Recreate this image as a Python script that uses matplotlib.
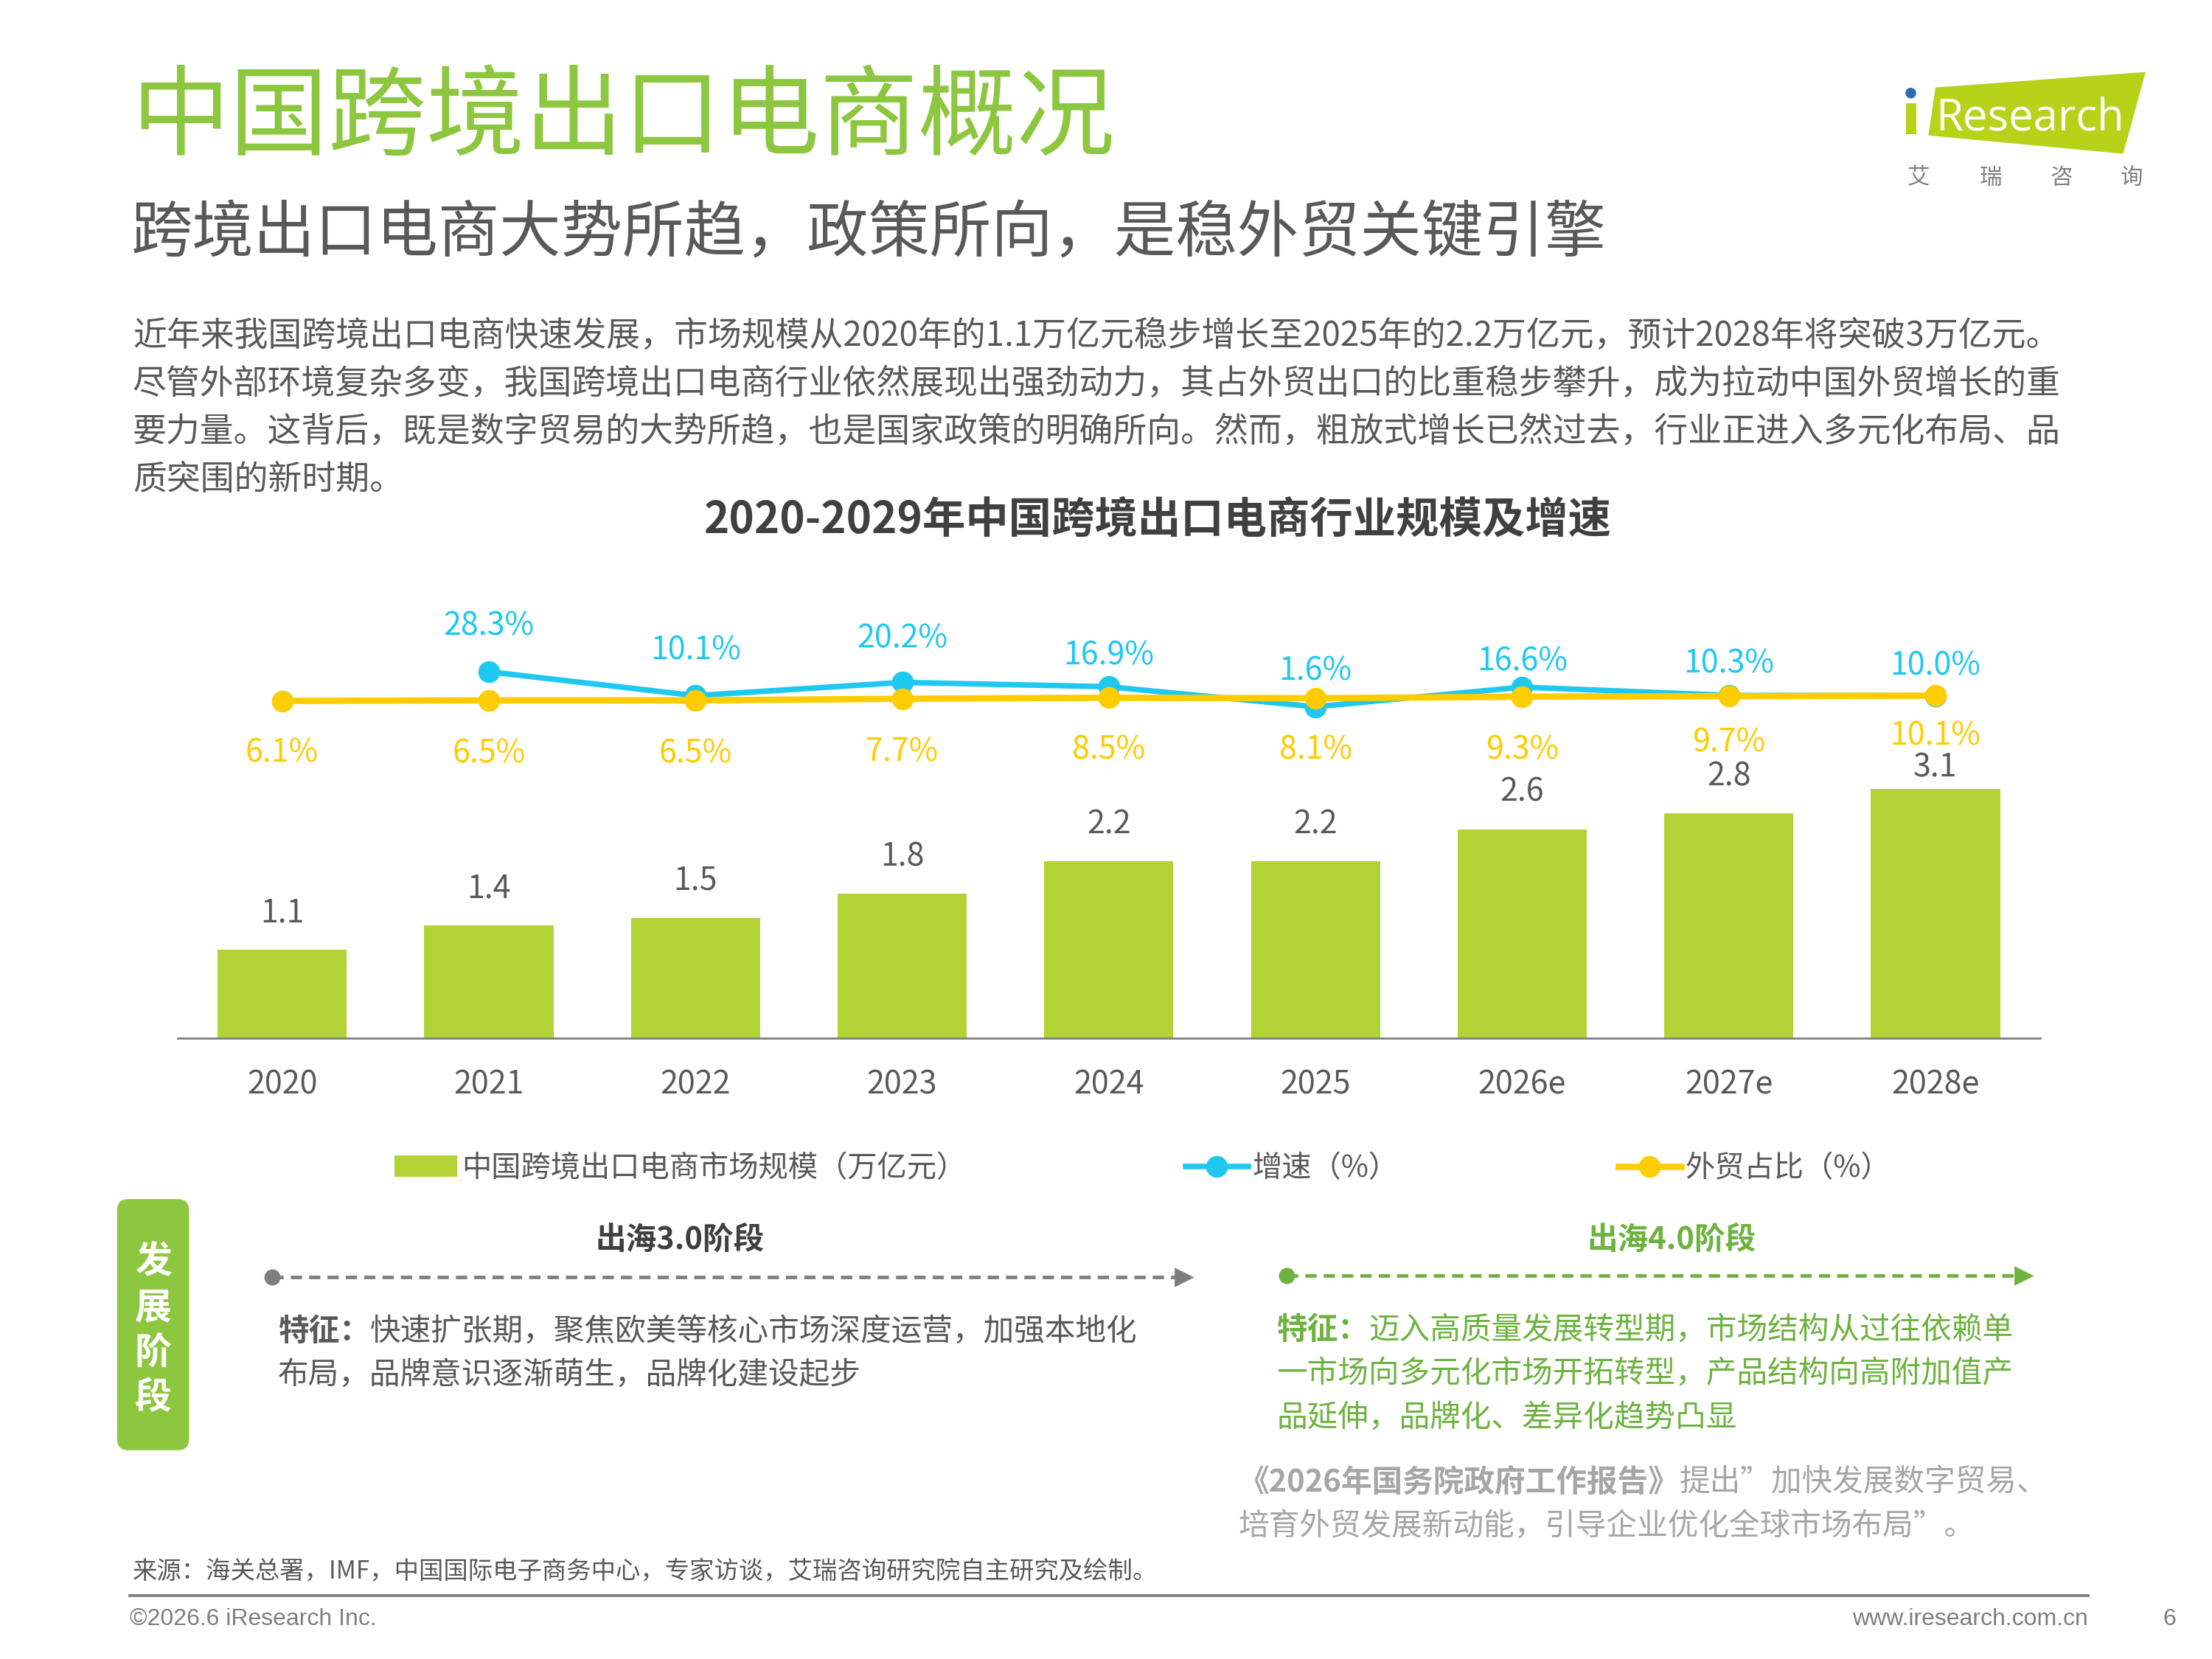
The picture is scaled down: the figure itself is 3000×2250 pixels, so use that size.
import numpy as np
import matplotlib
matplotlib.use('Agg')
from matplotlib import pyplot as plt
from matplotlib.patches import FancyBboxPatch, Polygon, Circle, Rectangle

plt.rcParams['font.family'] = ['Noto Sans CJK SC', 'DejaVu Sans']

# data
years = ['2020', '2021', '2022', '2023', '2024', '2025', '2026e', '2027e', '2028e']
market_size = [1.1, 1.4, 1.5, 1.8, 2.2, 2.2, 2.6, 2.8, 3.1]          # 万亿元
growth = [np.nan, 28.3, 10.1, 20.2, 16.9, 1.6, 16.6, 10.3, 10.0]     # %
trade_share = [6.1, 6.5, 6.5, 7.7, 8.5, 8.1, 9.3, 9.7, 10.1]         # %

BAR_GREEN = '#B2D235'
BLUE = '#1EC8F0'
YELLOW = '#FFCC00'
TITLE_GREEN = '#8DC63F'
STAGE_GREEN = '#6DB33F'
TEXT = '#595959'
DARK = '#404040'
LIGHT = '#A6A6A6'

W, H = 1568, 1176            # slide layout grid
PT = 3000 / W / 200 * 72     # one grid unit in points

fig = plt.figure(figsize=(15, 11.25), dpi=200)
bg = fig.add_axes([0, 0, 1, 1])
bg.set_xlim(0, W)
bg.set_ylim(H, 0)
bg.axis('off')


def run_text(x, y, parts, size, **kw):
    # draw text pieces one after another on one line (mixed weights)
    renderer = fig.canvas.get_renderer()
    for s, weight, color in parts:
        t = bg.text(x, y, s, fontsize=size, fontweight=weight, color=color,
                    ha='left', va='center', **kw)
        bb = t.get_window_extent(renderer)
        x = bg.transData.inverted().transform((bb.x1, bb.y0))[0]


# header
bg.text(93, 85, '中国跨境出口电商概况', fontsize=48, color=TITLE_GREEN, va='center')
bg.text(93, 166, '跨境出口电商大势所趋，政策所向，是稳外贸关键引擎', fontsize=30,
        color=TEXT, va='center')

paragraph = [
    '近年来我国跨境出口电商快速发展，市场规模从2020年的1.1万亿元稳步增长至2025年的2.2万亿元，预计2028年将突破3万亿元。',
    '尽管外部环境复杂多变，我国跨境出口电商行业依然展现出强劲动力，其占外贸出口的比重稳步攀升，成为拉动中国外贸增长的重',
    '要力量。这背后，既是数字贸易的大势所趋，也是国家政策的明确所向。然而，粗放式增长已然过去，行业正进入多元化布局、品',
    '质突围的新时期。',
]
for i, line in enumerate(paragraph):
    bg.text(94, 238 + 34 * i, line, fontsize=16.5, color=TEXT, va='center')

bg.text(821, 369, '2020-2029年中国跨境出口电商行业规模及增速', fontsize=21,
        fontweight='bold', color=DARK, ha='center', va='center')

# logo
bg.add_patch(Polygon([(1372, 62), (1521, 51), (1505, 109), (1367, 96)],
                     closed=True, fc='#B6D31A', ec='none'))
bg.add_patch(Rectangle((1351, 73), 7.5, 22, fc='#B6D31A', ec='none'))
bg.add_patch(Circle((1354.5, 66), 3.8, fc='#2E6DB4', ec='none'))
bg.text(1372, 92, 'Research', family=['Open Sans'], fontsize=21.5, color='white',
        va='baseline', ha='left')
for cx, ch in zip([1360, 1411, 1461, 1511], '艾瑞咨询'):
    bg.text(cx, 126, ch, fontsize=11, color='#7F7F7F', ha='center', va='center')

# chart
ax = fig.add_axes([126 / W, 1 - 736 / H, 1320 / W, 316 / H])
ax.patch.set_alpha(0)
x = np.arange(len(years))
bars = ax.bar(x, market_size, width=0.625, color=BAR_GREEN,
              label='中国跨境出口电商市场规模（万亿元）')
ax.set_xlim(-0.505, 8.505)
ax.set_ylim(0, 316 / 57)
for s in ['top', 'right', 'left']:
    ax.spines[s].set_visible(False)
ax.spines['bottom'].set_color('#7F7F7F')
ax.spines['bottom'].set_linewidth(1.0)
ax.set_yticks([])
ax.set_xticks(x, years)
ax.tick_params(axis='x', length=0, pad=15, labelsize=15.5, labelcolor=TEXT)

bar_off = [26, 26, 26, 26, 26, 26, 26, 26, 15]
for xi, v, off in zip(x, market_size, bar_off):
    ax.annotate(f'{v:.1f}', (xi, v), xytext=(0, off * PT), textcoords='offset points',
                ha='center', va='center', fontsize=15.5, color=TEXT)

ax2 = ax.twinx()
ax2.set_ylim(-(736 - 502.5) / 0.93, (502.5 - 420) / 0.93)
ax2.plot(x, growth, color=BLUE, lw=2.7, marker='o', ms=14 * PT, label='增速（%）', zorder=3)
ax2.plot(x, trade_share, color=YELLOW, lw=3.1, marker='o', ms=14 * PT,
         label='外贸占比（%）', zorder=4)
ax2.axis('off')

growth_off = [0, 32, 32, 31, 22, 25, 18, 22, 21]
for xi, v, off in zip(x, growth, growth_off):
    if np.isnan(v):
        continue
    ax2.annotate(f'{v:.1f}%', (xi, v), xytext=(0, off * PT), textcoords='offset points',
                 ha='center', va='center', fontsize=15.5, color=BLUE)

share_off = [37, 38, 38, 38, 37, 37, 38, 33, 29]
for xi, v, off in zip(x, trade_share, share_off):
    ax2.annotate(f'{v:.1f}%', (xi, v), xytext=(0, -off * PT), textcoords='offset points',
                 ha='center', va='center', fontsize=15.5, color=YELLOW)

h1, l1 = ax.get_legend_handles_labels()
h2, l2 = ax2.get_legend_handles_labels()
fig.legend(h1 + h2, l1 + l2, loc='center', bbox_to_anchor=(810 / W, 1 - 828 / H),
           ncol=3, frameon=False, fontsize=14.5, labelcolor=TEXT, handlelength=2.1,
           handletextpad=0.15, columnspacing=7.4)

# development stages
bg.add_patch(FancyBboxPatch((83, 850), 51, 178, boxstyle='round,pad=0,rounding_size=8',
                            fc=TITLE_GREEN, ec='none'))
for i, ch in enumerate('发展阶段'):
    bg.text(108.5, 895 + 32 * i, ch, fontsize=18, fontweight='bold', color='white',
            ha='center', va='center')


def stage_arrow(x0, x1, y, color):
    bg.plot([x0, x1 - 4], [y, y], color=color, lw=2.5 * PT, dashes=(3.2, 2.0))
    bg.plot([x0], [y], 'o', color=color, ms=10 * PT)
    bg.plot([x1 - 4], [y], marker='>', color=color, ms=11 * PT)


bg.text(482, 879, '出海3.0阶段', fontsize=15, fontweight='bold', color=DARK,
        ha='center', va='center')
stage_arrow(193, 843, 905, '#7F7F7F')
run_text(197, 944, [('特征：', 'bold', TEXT),
                    ('快速扩张期，聚焦欧美等核心市场深度运营，加强本地化', 'normal', TEXT)], 15)
bg.text(197, 975, '布局，品牌意识逐渐萌生，品牌化建设起步', fontsize=15, color=TEXT, va='center')

bg.text(1185, 879, '出海4.0阶段', fontsize=15, fontweight='bold', color=STAGE_GREEN,
        ha='center', va='center')
stage_arrow(912, 1438, 904, STAGE_GREEN)
run_text(905, 943, [('特征：', 'bold', STAGE_GREEN),
                    ('迈入高质量发展转型期，市场结构从过往依赖单', 'normal', STAGE_GREEN)], 15)
bg.text(905, 974, '一市场向多元化市场开拓转型，产品结构向高附加值产', fontsize=15,
        color=STAGE_GREEN, va='center')
bg.text(905, 1005, '品延伸，品牌化、差异化趋势凸显', fontsize=15, color=STAGE_GREEN, va='center')

run_text(878, 1051, [('《2026年国务院政府工作报告》', 'bold', LIGHT),
                     ('提出”加快发展数字贸易、', 'normal', LIGHT)], 15)
bg.text(878, 1082, '培育外贸发展新动能，引导企业优化全球市场布局”。', fontsize=15,
        color=LIGHT, va='center')

# footer
bg.text(94, 1114, '来源：海关总署，IMF，中国国际电子商务中心，专家访谈，艾瑞咨询研究院自主研究及绘制。',
        fontsize=12, color=TEXT, va='center')
bg.plot([92, 1480], [1131, 1131], color='#7F7F7F', lw=1.4)
bg.text(92, 1148, '©2026.6 iResearch Inc.', family=['Liberation Sans'], fontsize=11.5,
        color='#7F7F7F', va='center')
bg.text(1480, 1148, 'www.iresearch.com.cn', family=['Liberation Sans'], fontsize=11.5,
        color='#7F7F7F', va='center', ha='right')
bg.text(1538, 1148, '6', family=['Liberation Sans'], fontsize=11.5, color='#7F7F7F',
        va='center', ha='center')

fig.savefig('out.png', dpi=200, facecolor='white')
